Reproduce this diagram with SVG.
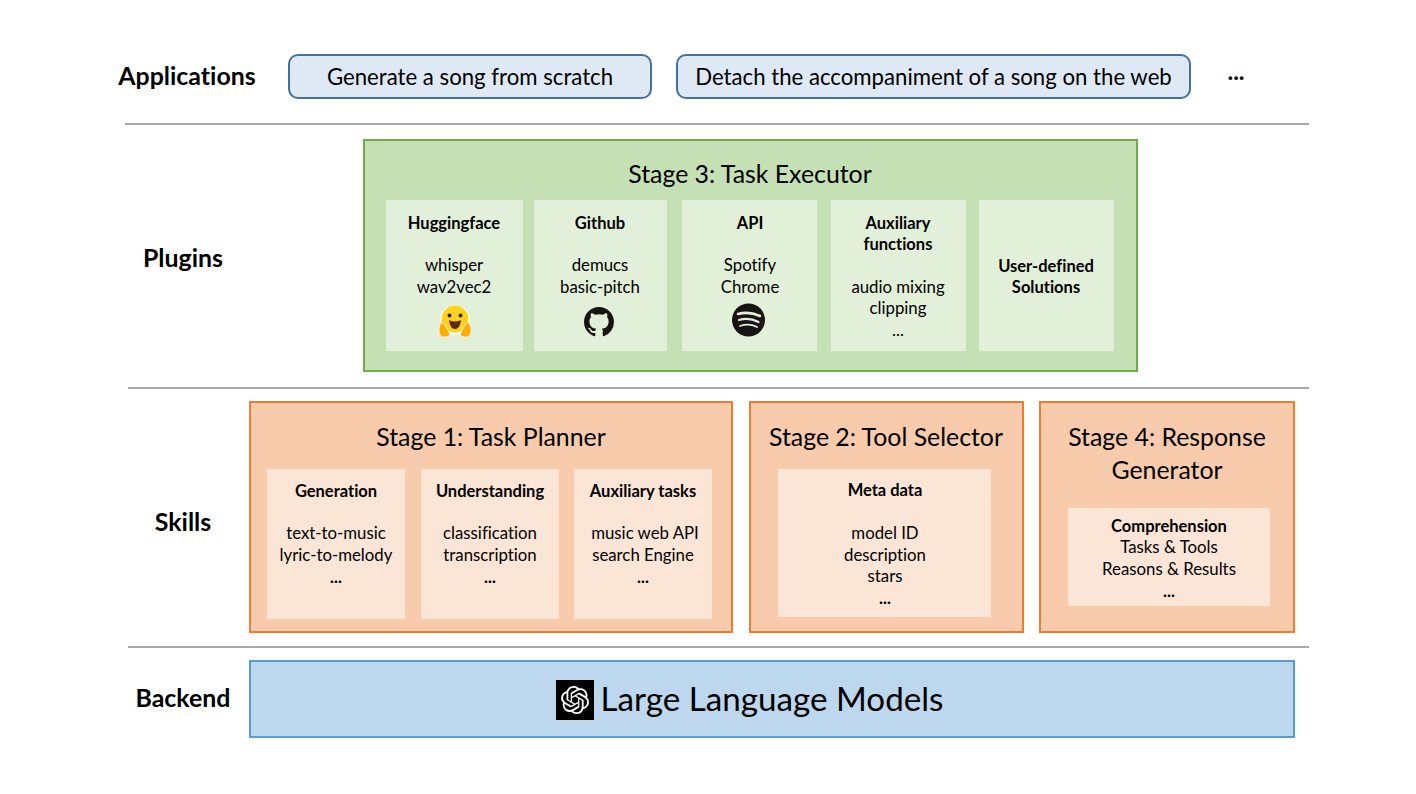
<svg xmlns="http://www.w3.org/2000/svg" width="1416" height="794" viewBox="0 0 1416 794">
<style>
text{font-family:Lato,"Liberation Sans",sans-serif;fill:#000;text-anchor:middle;font-variant-ligatures:none}
.h{font-size:24.900px;font-weight:700}
.st{font-size:24.850px}
.b{font-size:16.500px;font-weight:700}
.t{font-size:16.800px}
.a{font-size:22.200px}
.app{fill:#dee9f5;stroke:#41719c;stroke-width:2}
.sep{stroke:#a9a7a7;stroke-width:2;fill:none}
.or{fill:#f7cbac;stroke:#ed7d31;stroke-width:2}
.orc{fill:#fbe5d6}
.gr{fill:#c5e0b4;stroke:#70ad47;stroke-width:2}
.grc{fill:#e2f0d9}
</style>
<rect width="1416" height="794" fill="#fff"/>
<g id="connectors">
<path class="sep" d="M125 124H1309"/>
<path class="sep" d="M128 388H1309"/>
<path class="sep" d="M128 647H1309"/>
</g>
<g id="labels">
<text class="h" x="187" y="85">Applications</text>
<text class="h" x="183" y="267">Plugins</text>
<text class="h" x="183" y="531">Skills</text>
<text class="h" x="183" y="707">Backend</text>
<text x="1236" y="80" style="font-size:24px;font-weight:700">...</text>
</g>
<g id="app1"><rect class="app" x="289" y="55" width="362" height="43" rx="9"/><text class="a" x="470" y="84.500">Generate a song from scratch</text></g>
<g id="app2"><rect class="app" x="677" y="55" width="513" height="43" rx="9"/><text class="a" x="933.500" y="84.500">Detach the accompaniment of a song on the web</text></g>
<g id="stage3">
<rect class="gr" x="364" y="140" width="773" height="231"/>
<text class="st" x="750" y="183">Stage 3: Task Executor</text>
</g>
<g id="huggingface"><rect class="grc" x="386" y="200" width="137" height="151"/>
<text class="b" x="454" y="228.500">Huggingface</text><text class="t" x="454" y="271">whisper</text><text class="t" x="454" y="293">wav2vec2</text>
<g id="hf-icon">
<circle cx="455" cy="320" r="15" fill="#fff"/>
<circle cx="455" cy="319" r="13.500" fill="#ffd21e"/>
<circle cx="449.500" cy="315.500" r="2" fill="#2d2a26"/><circle cx="460.500" cy="315.500" r="2" fill="#2d2a26"/>
<path d="M449 320Q455 323 461 320Q460 329 455 329Q450 329 449 320Z" fill="#5a2a1a"/>
<path d="M441 322Q446 325 449 332Q451 336 446 337Q441 338 439 333Q438 328 441 322Z" fill="#ffad03" stroke="#fff" stroke-width="0.800"/>
<path d="M469 322Q464 325 461 332Q459 336 464 337Q469 338 471 333Q472 328 469 322Z" fill="#ffad03" stroke="#fff" stroke-width="0.800"/>
</g></g>
<g id="github"><rect class="grc" x="534" y="200" width="133" height="151"/>
<text class="b" x="600" y="228.500">Github</text><text class="t" x="600" y="271">demucs</text><text class="t" x="600" y="293">basic-pitch</text>
<path id="gh-icon" transform="translate(584 307) scale(1.875)" fill="#161514" d="M8 0C3.58 0 0 3.58 0 8c0 3.54 2.29 6.53 5.47 7.59.4.07.55-.17.55-.38 0-.19-.01-.82-.01-1.49-2.01.37-2.53-.49-2.69-.94-.09-.23-.48-.94-.82-1.13-.28-.15-.68-.52-.01-.53.63-.01 1.08.58 1.23.82.72 1.21 1.87.87 2.33.66.07-.52.28-.87.51-1.07-1.78-.2-3.64-.89-3.64-3.95 0-.87.31-1.59.82-2.15-.08-.2-.36-1.02.08-2.12 0 0 .67-.21 2.2.82.64-.18 1.32-.27 2-.27.68 0 1.36.09 2 .27 1.53-1.04 2.2-.82 2.2-.82.44 1.1.16 1.92.08 2.12.51.56.82 1.27.82 2.15 0 3.07-1.87 3.75-3.65 3.95.29.25.54.73.54 1.48 0 1.07-.01 1.93-.01 2.2 0 .21.15.46.55.38A8.013 8.013 0 0016 8c0-4.42-3.58-8-8-8z"/>
</g>
<g id="api"><rect class="grc" x="682" y="200" width="135" height="151"/>
<text class="b" x="750" y="228.500">API</text><text class="t" x="750" y="271">Spotify</text><text class="t" x="750" y="293">Chrome</text>
<g id="spotify-icon">
<circle cx="748.500" cy="320" r="16.500" fill="#191414"/>
<path d="M738 314Q749 311 760 316" fill="none" stroke="#e2f0d9" stroke-width="2.600" stroke-linecap="round"/>
<path d="M739 320Q749 317 758.500 322" fill="none" stroke="#e2f0d9" stroke-width="2.200" stroke-linecap="round"/>
<path d="M740 326Q749 323 757 327" fill="none" stroke="#e2f0d9" stroke-width="1.800" stroke-linecap="round"/>
</g></g>
<g id="auxfn"><rect class="grc" x="831" y="200" width="135" height="151"/>
<text class="b" x="898" y="228.500">Auxiliary</text><text class="b" x="898" y="249.500">functions</text><text class="t" x="898" y="293">audio mixing</text><text class="t" x="898" y="314">clipping</text><text class="t" x="898" y="336">...</text></g>
<g id="userdef"><rect class="grc" x="979" y="200" width="135" height="151"/>
<text class="b" x="1046" y="271.500">User-defined</text><text class="b" x="1046" y="292.500">Solutions</text></g>
<g id="stage1">
<rect class="or" x="250" y="402" width="482" height="230"/>
<text class="st" x="491" y="445.500">Stage 1: Task Planner</text>
</g>
<g id="generation"><rect class="orc" x="267" y="469" width="138" height="150"/>
<text class="b" x="336" y="496.500">Generation</text><text class="t" x="336" y="539">text-to-music</text><text class="t" x="336" y="561">lyric-to-melody</text><text class="b" x="336" y="583">...</text></g>
<g id="understanding"><rect class="orc" x="421" y="469" width="138" height="150"/>
<text class="b" x="490" y="496.500">Understanding</text><text class="t" x="490" y="539">classification</text><text class="t" x="490" y="561">transcription</text><text class="b" x="490" y="583">...</text></g>
<g id="auxtasks"><rect class="orc" x="574" y="469" width="138" height="150"/>
<text class="b" x="643" y="496.500">Auxiliary tasks</text><text class="t" x="645" y="539">music web API</text><text class="t" x="643" y="561">search Engine</text><text class="b" x="643" y="583">...</text></g>
<g id="stage2">
<rect class="or" x="750" y="402" width="273" height="230"/>
<text class="st" x="886" y="445.500">Stage 2: Tool Selector</text>
<rect class="orc" x="778" y="469" width="213" height="148"/>
<text class="b" x="885" y="495.500">Meta data</text><text class="t" x="885" y="538.500">model ID</text><text class="t" x="885" y="560.500">description</text><text class="t" x="885" y="581.500">stars</text><text class="b" x="885" y="604">...</text>
</g>
<g id="stage4">
<rect class="or" x="1040" y="402" width="254" height="230"/>
<text class="st" x="1167" y="445.500">Stage 4: Response</text><text class="st" x="1167" y="478.500">Generator</text>
<rect class="orc" x="1068" y="508" width="202" height="98"/>
<text class="b" x="1169" y="531.500">Comprehension</text><text class="t" x="1169" y="552.500">Tasks &amp; Tools</text><text class="t" x="1169" y="574.500">Reasons &amp; Results</text><text class="b" x="1169" y="597">...</text>
</g>
<g id="backend">
<rect x="250" y="661" width="1044" height="76" fill="#bdd7ee" stroke="#5b9bd5" stroke-width="2"/>
<rect x="556" y="680" width="38" height="40" fill="#000"/>
<path id="openai-icon" transform="translate(561 686) scale(1.170)" fill="#fff" d="M22.2819 9.8211a5.9847 5.9847 0 0 0-.5157-4.9108 6.0462 6.0462 0 0 0-6.5098-2.9A6.0651 6.0651 0 0 0 4.9807 4.1818a5.9847 5.9847 0 0 0-3.9977 2.9 6.0462 6.0462 0 0 0 .7427 7.0966 5.98 5.98 0 0 0 .511 4.9107 6.051 6.051 0 0 0 6.5146 2.9001A5.9847 5.9847 0 0 0 13.2599 24a6.0557 6.0557 0 0 0 5.7718-4.2058 5.9894 5.9894 0 0 0 3.9977-2.9001 6.0557 6.0557 0 0 0-.7475-7.0729zm-9.022 12.6081a4.4755 4.4755 0 0 1-2.8764-1.0408l.1419-.0804 4.7783-2.7582a.7948.7948 0 0 0 .3927-.6813v-6.7369l2.02 1.1686a.071.071 0 0 1 .038.052v5.5826a4.504 4.504 0 0 1-4.4945 4.4944zm-9.6607-4.1254a4.4708 4.4708 0 0 1-.5346-3.0137l.142.0852 4.783 2.7582a.7712.7712 0 0 0 .7806 0l5.8428-3.3685v2.3324a.0804.0804 0 0 1-.0332.0615L9.74 19.9502a4.4992 4.4992 0 0 1-6.1408-1.6464zM2.3408 7.8956a4.485 4.485 0 0 1 2.3655-1.9728V11.6a.7664.7664 0 0 0 .3879.6765l5.8144 3.3543-2.0201 1.1685a.0757.0757 0 0 1-.071 0l-4.8303-2.7865A4.504 4.504 0 0 1 2.3408 7.872zm16.5963 3.8558L13.1038 8.364 15.1192 7.2a.0757.0757 0 0 1 .071 0l4.8303 2.7913a4.4944 4.4944 0 0 1-.6765 8.1042v-5.6772a.79.79 0 0 0-.407-.667zm2.0107-3.0231l-.142-.0852-4.7735-2.7818a.7759.7759 0 0 0-.7854 0L9.409 9.2297V6.8974a.0662.0662 0 0 1 .0284-.0615l4.8303-2.7866a4.4992 4.4992 0 0 1 6.6802 4.66zM8.3065 12.863l-2.02-1.1638a.0804.0804 0 0 1-.038-.0567V6.0742a4.4992 4.4992 0 0 1 7.3757-3.4537l-.142.0805L8.704 5.459a.7948.7948 0 0 0-.3927.6813zm1.0976-2.3654l2.602-1.4998 2.6069 1.4998v2.9994l-2.5974 1.4997-2.6067-1.4997Z"/>
<text x="772" y="711" style="font-size:33.200px">Large Language Models</text>
</g>
</svg>
